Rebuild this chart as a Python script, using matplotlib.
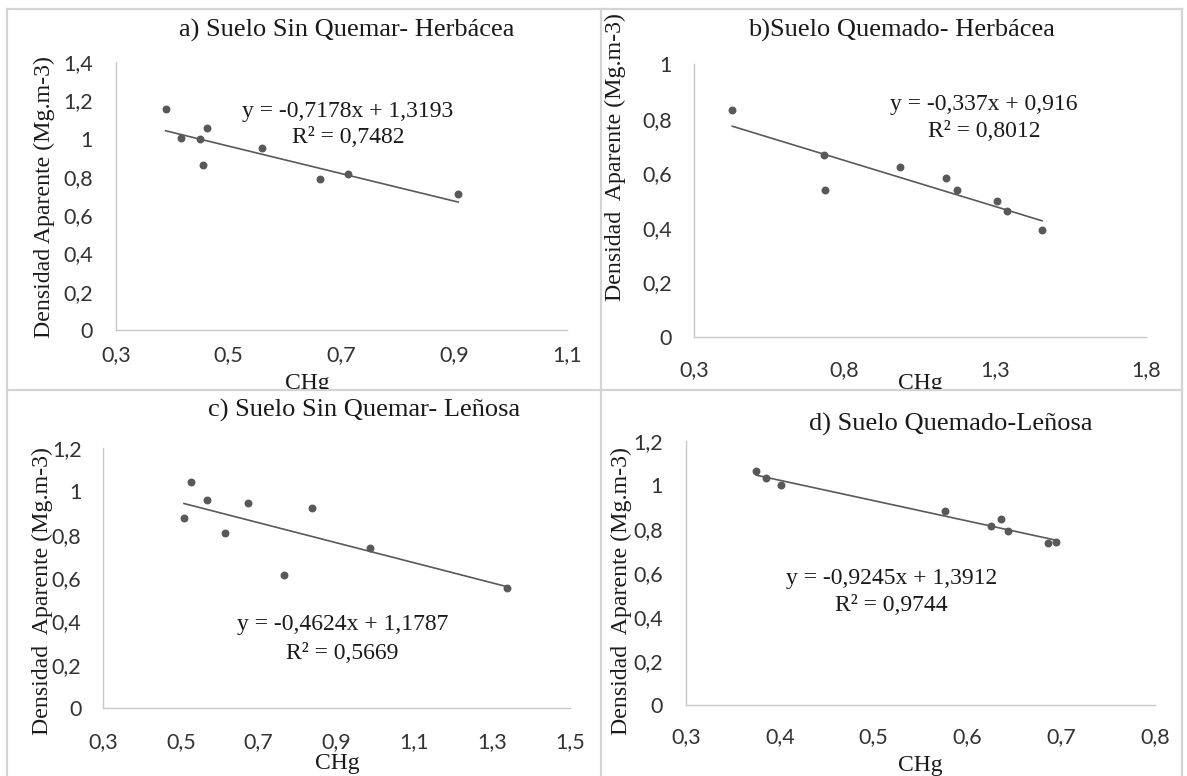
import matplotlib
matplotlib.use("Agg")
import matplotlib.pyplot as plt
from matplotlib.lines import Line2D
from matplotlib.transforms import Bbox, TransformedBbox

# bulk density vs CHg, four soil / vegetation combinations
a_x = [0.388, 0.415, 0.449, 0.461, 0.455, 0.559, 0.661, 0.711, 0.907]
a_y = [1.156, 1.001, 0.996, 1.057, 0.862, 0.951, 0.789, 0.815, 0.709]
a_fit = (-0.7178, 1.3193, "0,7482")

b_x = [0.427, 0.730, 0.736, 0.984, 1.136, 1.172, 1.304, 1.338, 1.455]
b_y = [0.831, 0.667, 0.540, 0.621, 0.584, 0.538, 0.499, 0.460, 0.393]
b_fit = (-0.337, 0.916, "0,8012")

c_x = [0.508, 0.525, 0.567, 0.613, 0.673, 0.766, 0.837, 0.985, 1.339]
c_y = [0.876, 1.041, 0.962, 0.809, 0.947, 0.612, 0.922, 0.739, 0.555]
c_fit = (-0.4624, 1.1787, "0,5669")

d_x = [0.375, 0.385, 0.401, 0.576, 0.625, 0.636, 0.643, 0.686, 0.694]
d_y = [1.064, 1.032, 1.001, 0.882, 0.815, 0.844, 0.792, 0.736, 0.742]
d_fit = (-0.9245, 1.3912, "0,9744")

a_xticks = [0.3, 0.5, 0.7, 0.9, 1.1]
b_xticks = [0.3, 0.8, 1.3, 1.8]
c_xticks = [0.3, 0.5, 0.7, 0.9, 1.1, 1.3, 1.5]
d_xticks = [0.3, 0.4, 0.5, 0.6, 0.7, 0.8]
a_yticks = [0, 0.2, 0.4, 0.6, 0.8, 1.0, 1.2, 1.4]
b_yticks = [0, 0.2, 0.4, 0.6, 0.8, 1.0]
cd_yticks = [0, 0.2, 0.4, 0.6, 0.8, 1.0, 1.2]

titles = ["a) Suelo Sin Quemar- Herbácea", "b)Suelo Quemado- Herbácea",
          "c) Suelo Sin Quemar- Leñosa", "d) Suelo Quemado-Leñosa"]
ylabels = ["Densidad Aparente (Mg.m-3)", "Densidad  Aparente (Mg.m-3)",
           "Densidad  Aparente (Mg.m-3)", "Densidad  Aparente (Mg.m-3)"]

W, H = 1187, 776
SERIF = "Liberation Serif"
DARK = "#595959"
TXT = "#1a1a1a"

fig = plt.figure(figsize=(W / 100, H / 100), dpi=100)


def fx(px):
    return px / W


def fy(py):
    return 1 - py / H


def comma(v):
    return f"{round(v, 4):g}".replace(".", ",")


def panel(box, xs, ys, fit, xticks, yticks, xpad, ypad, eq_pos):
    left, right, top, bottom = box
    ax = fig.add_axes([fx(left), fy(bottom), fx(right - left), (bottom - top) / H])
    ax.set_xlim(xticks[0], xticks[-1])
    ax.set_ylim(yticks[0], yticks[-1])
    ax.set_xticks(xticks)
    ax.set_yticks(yticks)
    ax.set_xticklabels([comma(v) for v in xticks])
    ax.set_yticklabels([comma(v) for v in yticks])
    for s in ["top", "right"]:
        ax.spines[s].set_visible(False)
    for s in ["left", "bottom"]:
        ax.spines[s].set_color("#c8c8c8")
        ax.spines[s].set_linewidth(1.0)
    ax.tick_params(length=0, labelsize=15.5, labelcolor="#333333")
    ax.tick_params(axis="x", pad=xpad)
    ax.tick_params(axis="y", pad=ypad)
    for lab in ax.get_xticklabels() + ax.get_yticklabels():
        lab.set_fontfamily("Lato")
    ax.patch.set_alpha(0)

    slope, icpt, r2 = fit
    x0, x1 = min(xs), max(xs)
    ax.plot([x0, x1], [slope * x0 + icpt, slope * x1 + icpt], color=DARK, lw=1.2)
    ax.scatter(xs, ys, s=22, color=DARK, zorder=3, clip_on=False)

    ex, ey1, ey2 = eq_pos
    sign = "-" if slope < 0 else ""
    eq = f"y = {sign}{comma(abs(slope))}x + {comma(icpt)}"
    ax.text(ex, ey1, eq, ha="center", va="center", fontsize=17, family=SERIF, color=TXT)
    ax.text(ex, ey2, f"R² = {r2}", ha="center", va="center", fontsize=17, family=SERIF, color=TXT)
    return ax


panel((116, 567, 62, 330), a_x, a_y, a_fit, a_xticks, a_yticks, 11, 16.5, (0.7115, 1.139, 1.003))
panel((694, 1146, 64, 337), b_x, b_y, b_fit, b_xticks, b_yticks, 16.5, 16, (1.2625, 0.853, 0.751))
panel((103, 570, 448, 708), c_x, c_y, c_fit, c_xticks, cd_yticks, 17.5, 15.5, (0.9157, 0.386, 0.252))
panel((686, 1155, 441, 705), d_x, d_y, d_fit, d_xticks, cd_yticks, 16, 16.5, (0.519, 0.576, 0.4545))

# titles and axis labels, placed in figure pixels
title_pos = [(347, 30), (901, 30), (364, 410), (951, 424)]
ylab_pos = [(44, 197), (615, 157), (42, 591), (621, 591)]
xlab_pos = [(307, 383), (920, 383), (337, 763), (920, 765)]

for t, (x, y) in zip(titles, title_pos):
    fig.text(fx(x), fy(y), t, ha="center", va="center", fontsize=19, family=SERIF, color=TXT)
for t, (x, y) in zip(ylabels, ylab_pos):
    fig.text(fx(x), fy(y), t, ha="center", va="center", rotation=90, fontsize=17.2,
             family=SERIF, color=TXT)

# top-row x labels are cut off by the cell border below them
top_clip = TransformedBbox(Bbox([[0, fy(389)], [1, 1]]), fig.transFigure)
for i, (x, y) in enumerate(xlab_pos):
    t = fig.text(fx(x), fy(y), "CHg", ha="center", va="center", fontsize=17,
                 family=SERIF, color=TXT)
    if i < 2:
        t.set_clip_on(True)
        t.set_clip_box(top_clip)

# cell borders
border = dict(color="#d4d4d4", lw=1.6, transform=fig.transFigure)
fig.add_artist(Line2D([fx(7), fx(1182)], [fy(9), fy(9)], **border))
fig.add_artist(Line2D([fx(7), fx(1182)], [fy(390), fy(390)], **border))
fig.add_artist(Line2D([fx(7), fx(7)], [fy(9), 0], **border))
fig.add_artist(Line2D([fx(601), fx(601)], [fy(9), 0], **border))
fig.add_artist(Line2D([fx(1182), fx(1182)], [fy(9), 0], **border))

fig.savefig("out.png", dpi=100, facecolor="white")
